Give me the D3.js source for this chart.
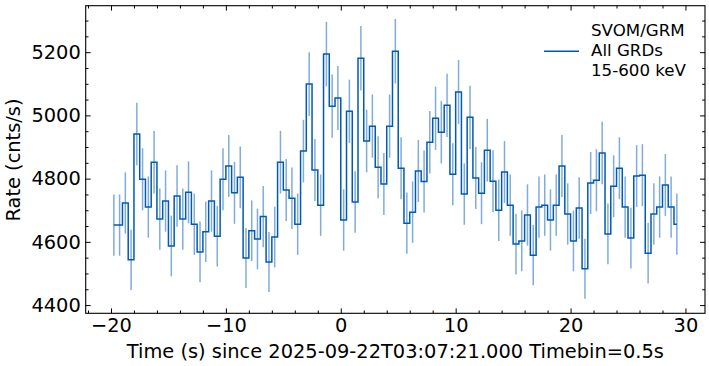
<!DOCTYPE html>
<html>
<head>
<meta charset="utf-8">
<script src="https://cdn.jsdelivr.net/npm/d3@7"></script>
<style>
  html, body { margin: 0; padding: 0; background: #fff; }
  svg { display: block; font-family: "DejaVu Sans", sans-serif; }
</style>
</head>
<body>
<svg id="chart" width="709" height="366"></svg>
<script>
// ---- data ----
const binStart = -19.75;   // centre of first 0.5 s bin
const binWidth = 0.5;
const rates = [
  4653, 4653, 4723, 4543, 4941, 4798, 4710, 4852, 4672, 4729,
  4587, 4745, 4672, 4757, 4656, 4568, 4632, 4729, 4618, 4798,
  4840, 4755, 4804, 4549, 4635, 4609, 4680, 4536, 4615, 4852,
  4764, 4738, 4656, 4887, 5099, 4827, 4716, 5194, 5029, 5055,
  4669, 5013, 4726, 5181, 4919, 4966, 4836, 4783, 4966, 5203,
  4833, 4659, 4694, 4824, 4791, 4915, 4991, 4947, 5032, 4814,
  5074, 4751, 4994, 4802, 4754, 4890, 4792, 4700, 4821, 4716,
  4593, 4603, 4685, 4558, 4710, 4716, 4669, 4716, 4840, 4688,
  4603, 4707, 4515, 4786, 4795, 4881, 4625, 4776, 4833, 4710,
  4612, 4808, 4811, 4564, 4688, 4710, 4780, 4710, 4656
];
const errors = [
  97, 97, 97, 95, 99, 98, 97, 99, 97, 97,
  96, 97, 97, 98, 97, 96, 96, 97, 96, 98,
  98, 98, 98, 95, 96, 96, 97, 95, 96, 99,
  98, 97, 97, 99, 101, 98, 97, 102, 100, 101,
  97, 100, 97, 102, 99, 100, 98, 98, 100, 102,
  98, 97, 97, 98, 98, 99, 100, 99, 100, 98,
  101, 97, 100, 98, 98, 99, 98, 97, 98, 97,
  96, 96, 97, 95, 97, 97, 97, 97, 98, 97,
  96, 97, 95, 98, 98, 99, 96, 98, 98, 97,
  96, 98, 98, 96, 97, 97, 98, 97, 97
];
const xTicks = [-20, -10, 0, 10, 20, 30];
const yTicks = [4400, 4600, 4800, 5000, 5200];
const legendLines = ["SVOM/GRM", "All GRDs", "15-600 keV"];
const xLabel = "Time (s) since 2025-09-22T03:07:21.000 Timebin=0.5s";
const yLabel = "Rate (cnts/s)";

const times = rates.map((_, i) => binStart + i * binWidth);
const data = rates.map((r, i) => ({ t: times[i], r: r, e: errors[i] }));

// ---- layout ----
const L = 85.7, R = 705, T = 5.7, B = 313.3;
const lineColor = "#005AB5";
const tickFont = "19.4px";

const svg = d3.select("#chart");
const x = d3.scaleLinear().domain([-22.2, 31.7]).range([L, R]);
const y = d3.scaleLinear().domain([4374, 5347]).range([B, T]);

// error bars
svg.append("g").selectAll("line").data(data).join("line")
  .attr("x1", d => x(d.t)).attr("x2", d => x(d.t))
  .attr("y1", d => y(d.r - d.e)).attr("y2", d => y(d.r + d.e))
  .attr("stroke", lineColor).attr("stroke-opacity", 0.5)
  .attr("stroke-width", 1.5);

// step line (mid)
const step = d3.line().x(d => x(d.t)).y(d => y(d.r)).curve(d3.curveStep);
svg.append("path").datum(data)
  .attr("d", step).attr("fill", "none")
  .attr("stroke", lineColor).attr("stroke-width", 1.5)
  .attr("stroke-linejoin", "miter");

// ---- axes ----
const major = 4.9, minor = 2.8, pad = 4.9;
const xMinor = d3.range(-22, 32, 2).filter(v => v % 10 !== 0);
const yMinor = d3.range(4400, 5350, 50).filter(v => v % 200 !== 0);

function styleAxis(g, labels) {
  g.select(".domain").remove();
  g.selectAll(".tick line").attr("stroke", "#000").attr("stroke-width", 1);
  if (labels) {
    g.selectAll(".tick text").attr("fill", "#000")
      .style("font-size", tickFont).style("font-family", "DejaVu Sans");
  } else {
    g.selectAll(".tick text").remove();
  }
}

const fmt = d => (d < 0 ? "\u2212" + Math.abs(d) : String(d));

svg.append("g").attr("transform", `translate(0,${B})`)
  .call(d3.axisBottom(x).tickValues(xTicks).tickFormat(fmt).tickSize(-major).tickPadding(pad))
  .call(g => styleAxis(g, true));
svg.append("g").attr("transform", `translate(0,${B})`)
  .call(d3.axisBottom(x).tickValues(xMinor).tickSize(-minor))
  .call(g => styleAxis(g, false));
svg.append("g").attr("transform", `translate(0,${T})`)
  .call(d3.axisTop(x).tickValues(xTicks).tickSize(-major))
  .call(g => styleAxis(g, false));
svg.append("g").attr("transform", `translate(0,${T})`)
  .call(d3.axisTop(x).tickValues(xMinor).tickSize(-minor))
  .call(g => styleAxis(g, false));

svg.append("g").attr("transform", `translate(${L},0)`)
  .call(d3.axisLeft(y).tickValues(yTicks).tickFormat(d3.format("d")).tickSize(-major).tickPadding(pad))
  .call(g => styleAxis(g, true));
svg.append("g").attr("transform", `translate(${L},0)`)
  .call(d3.axisLeft(y).tickValues(yMinor).tickSize(-minor))
  .call(g => styleAxis(g, false));
svg.append("g").attr("transform", `translate(${R},0)`)
  .call(d3.axisRight(y).tickValues(yTicks).tickSize(-major))
  .call(g => styleAxis(g, false));
svg.append("g").attr("transform", `translate(${R},0)`)
  .call(d3.axisRight(y).tickValues(yMinor).tickSize(-minor))
  .call(g => styleAxis(g, false));

// frame
svg.append("rect").attr("x", L).attr("y", T)
  .attr("width", R - L).attr("height", B - T)
  .attr("fill", "none").attr("stroke", "#000").attr("stroke-width", 1.1);

// axis labels
svg.append("text").attr("x", (L + R) / 2).attr("y", 357.5)
  .attr("text-anchor", "middle").style("font-size", "19.4px").attr("fill", "#000")
  .text(xLabel);
svg.append("text").attr("transform", "translate(19.5,160) rotate(-90)")
  .attr("text-anchor", "middle").style("font-size", "19.4px").attr("fill", "#000")
  .text(yLabel);

// legend
const lg = svg.append("g");
lg.append("line").attr("x1", 544).attr("x2", 579).attr("y1", 51.3).attr("y2", 51.3)
  .attr("stroke", lineColor).attr("stroke-width", 1.5);
lg.selectAll("text").data(legendLines).join("text")
  .attr("x", 591).attr("y", (d, i) => 35.8 + i * 20)
  .style("font-size", "16.67px").attr("fill", "#000")
  .text(d => d);
</script>
</body>
</html>
